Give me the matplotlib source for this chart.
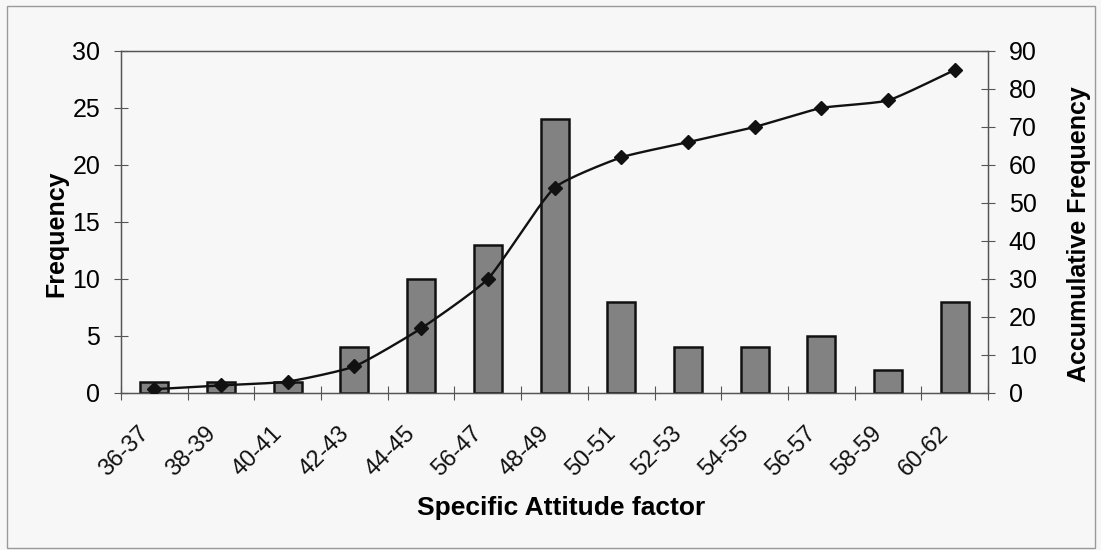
import numpy as np
import matplotlib
matplotlib.use("Agg")
import matplotlib.pyplot as plt
from matplotlib.patches import Rectangle
from matplotlib.transforms import ScaledTranslation

categories = ["36-37", "38-39", "40-41", "42-43", "44-45", "56-47", "48-49",
              "50-51", "52-53", "54-55", "56-57", "58-59", "60-62"]
frequency = [1, 1, 1, 4, 10, 13, 24, 8, 4, 4, 5, 2, 8]
cumulative = [1, 2, 3, 7, 17, 30, 54, 62, 66, 70, 75, 77, 85]
freq_ticks = [0, 5, 10, 15, 20, 25, 30]
cum_ticks = [0, 10, 20, 30, 40, 50, 60, 70, 80, 90]

plt.rcParams["font.family"] = ["Liberation Sans", "DejaVu Sans"]

bg = "#f7f7f7"
axis_col = "#555555"
fig = plt.figure(figsize=(11.01, 5.5), dpi=100, facecolor=bg)
fig.patches.append(Rectangle((0.006, 0.004), 0.989, 0.986, transform=fig.transFigure,
                             fill=False, edgecolor="#9a9a9a", linewidth=1.0))

ax = fig.add_axes([0.1099, 0.2855, 0.7875, 0.6218])
ax.set_facecolor(bg)
x = np.arange(len(categories))
ax.bar(x, frequency, width=0.42, color="#828282", edgecolor="#111111", linewidth=1.8, zorder=2)
ax.set_xlim(-0.5, len(categories) - 0.5)
ax.set_ylim(0, 30)
ax.set_yticks(freq_ticks)

# category boundaries carry the tick marks; names sit under each bar, rotated
ax.set_xticks(np.arange(-0.5, len(categories), 1.0))
ax.set_xticklabels([])
ax.tick_params(axis="x", direction="inout", length=10, color=axis_col)
label_shift = ScaledTranslation(-6.5 / 72, -27 / 72, fig.dpi_scale_trans)
for xi, name in zip(x, categories):
    ax.text(xi, 0, name, transform=ax.get_xaxis_transform() + label_shift,
            rotation=45, ha="right", va="center", rotation_mode="anchor",
            fontsize=17, color="#111111")

ax.tick_params(axis="y", direction="inout", length=10, labelsize=18, color=axis_col, pad=10)
for side in ["left", "bottom", "top", "right"]:
    ax.spines[side].set_color(axis_col)
    ax.spines[side].set_linewidth(1.0)
ax.set_ylabel("Frequency", fontsize=18, fontweight="bold", labelpad=3)
ax.yaxis.label.set_y(0.465)
ax.set_xlabel("Specific Attitude factor", fontsize=19, fontweight="bold")
ax.xaxis.set_label_coords(0.5075, -0.30)

ax2 = ax.twinx()
ax2.set_ylim(0, 90)
ax2.set_yticks(cum_ticks)
ax2.tick_params(axis="y", direction="inout", length=10, labelsize=18, color=axis_col, pad=10)
for side in ["left", "bottom", "top", "right"]:
    ax2.spines[side].set_color(axis_col)
ax2.set_ylabel("Accumulative Frequency", fontsize=18, fontweight="bold", labelpad=22)
ax2.yaxis.label.set_y(0.465)

# smoothed cumulative curve: Bezier segments built in display space so the
# tangent handles scale with each segment's on-screen length
pts = ax2.transData.transform(np.column_stack([x, cumulative]).astype(float))
n = len(pts)
curve = []
for i in range(n - 1):
    p0, p1 = pts[max(i - 1, 0)], pts[i]
    p2, p3 = pts[i + 1], pts[min(i + 2, n - 1)]
    seg = np.linalg.norm(p2 - p1)
    d1 = p2 - p0
    d2 = p3 - p1
    d1 = d1 / np.linalg.norm(d1)
    d2 = d2 / np.linalg.norm(d2)
    c1 = p1 + d1 * seg * 0.17
    c2 = p2 - d2 * seg * 0.17
    t = np.linspace(0, 1, 40)[:, None]
    b = (1 - t) ** 3 * p1 + 3 * (1 - t) ** 2 * t * c1 + 3 * (1 - t) * t ** 2 * c2 + t ** 3 * p2
    curve.append(b)
curve = ax2.transData.inverted().transform(np.vstack(curve))
ax2.plot(curve[:, 0], curve[:, 1], color="#111111", linewidth=1.7, zorder=3)
ax2.plot(x, cumulative, linestyle="none", marker="D", markersize=7, color="#111111", zorder=4)

fig.savefig("out.png", dpi=100, facecolor=bg)
